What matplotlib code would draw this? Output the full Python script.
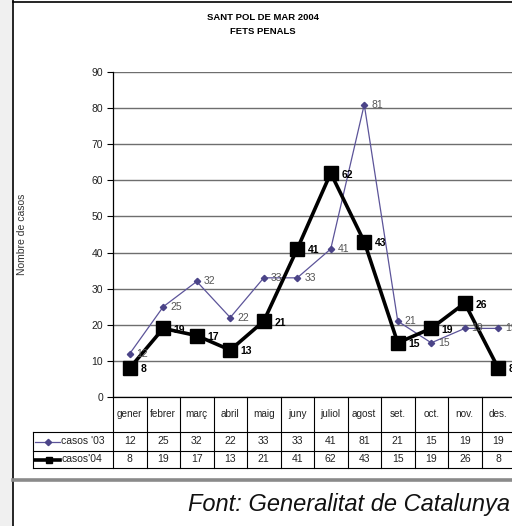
"""
plot.py - Sant Pol de Mar 2004: fets penals (casos '03 vs casos '04)
"""

import matplotlib
matplotlib.use('Agg')
import matplotlib.pyplot as plt
from matplotlib.lines import Line2D
from matplotlib.patches import Rectangle

months = ['gener', 'febrer', 'març', 'abril', 'maig', 'juny',
          'juliol', 'agost', 'set.', 'oct.', 'nov.', 'des.']
casos_03 = [12, 25, 32, 22, 33, 33, 41, 81, 21, 15, 19, 19]
casos_04 = [8, 19, 17, 13, 21, 41, 62, 43, 15, 19, 26, 8]
series_labels = ["casos '03", "casos'04"]
y_ticks = [0, 10, 20, 30, 40, 50, 60, 70, 80, 90]

plt.rcParams['font.family'] = ['Liberation Sans', 'DejaVu Sans']

W, H = 512, 526
figure = plt.figure(figsize=(W / 100, H / 100), dpi=100)


def fx(px):
    return px / W


def fy(py):
    return 1 - py / H


# left grey strip + frame
figure.patches.append(Rectangle((0, 0), fx(12), 1, transform=figure.transFigure,
                                facecolor='#f0f0f0', edgecolor='none', zorder=0))
figure.add_artist(Line2D([fx(12.5), fx(12.5)], [0, 1], color='black', lw=1.2))
figure.add_artist(Line2D([fx(12.5), 1], [fy(1.5), fy(1.5)], color='black', lw=1.2))
figure.add_artist(Line2D([fx(12.5), 1], [fy(480), fy(480)], color='#8a8a8a', lw=2.6))

# plot area
left, right, bottom, top = 113, 515, 397, 72
axis = figure.add_axes([fx(left), fy(bottom), fx(right - left), (bottom - top) / H])
x = list(range(len(months)))

axis.plot(x, casos_03, color='#5c5499', lw=0.9, marker='D', markersize=3.2,
          markerfacecolor='#4b4488', markeredgecolor='#4b4488', zorder=3)
axis.plot(x, casos_04, color='black', lw=2.6, marker='s', markersize=9.5, zorder=4)

for i, value in enumerate(casos_03):
    axis.annotate(str(value), (i, value), xytext=(5, 0), textcoords='offset points',
                  ha='left', va='center', fontsize=7.5, color='#555555', zorder=5)
for i, value in enumerate(casos_04):
    axis.annotate(str(value), (i, value), xytext=(7.5, -1), textcoords='offset points',
                  ha='left', va='center', fontsize=7.5, fontweight='bold', color='black', zorder=5)

axis.set_xlim(-0.5, len(months) - 0.5)
axis.set_ylim(0, 90)
axis.set_yticks(y_ticks)
axis.set_yticklabels([str(v) for v in y_ticks], fontsize=7.5, color='#222222')
axis.tick_params(axis='y', length=4, width=0.8, pad=3)
axis.set_xticks([])
axis.grid(axis='y', color='#6e6e6e', lw=1.0)
axis.set_axisbelow(True)
for side in ['top', 'right']:
    axis.spines[side].set_visible(False)
axis.spines['left'].set_linewidth(0.9)
axis.spines['bottom'].set_linewidth(0.9)

axis.set_ylabel('Nombre de casos', fontsize=7.5, color='#333333')
axis.yaxis.set_label_coords((27 - left) / (right - left), 0.5)

# data table under the axis
height = bottom - top


def ay(py):
    return -(py - bottom) / height


def axx(px):
    return (px - left) / (right - left)


row_month, row_03, row_04 = 432, 451, 468
kw = dict(transform=axis.transAxes, clip_on=False, color='black', lw=0.8)
for i in range(len(months) + 1):
    bx = axx(left + i * (right - left) / len(months))
    axis.add_line(Line2D([bx, bx], [0, ay(row_04)], **kw))
for py in [row_month, row_03, row_04]:
    axis.add_line(Line2D([axx(33), 1], [ay(py), ay(py)], **kw))
axis.add_line(Line2D([axx(33), axx(33)], [ay(row_month), ay(row_04)], **kw))

for i, name in enumerate(months):
    axis.text(i, ay(414), name, transform=axis.get_xaxis_transform(), ha='center',
              va='center', fontsize=7.2, color='#222222', clip_on=False)
    axis.text(i, ay((row_month + row_03) / 2), str(casos_03[i]),
              transform=axis.get_xaxis_transform(), ha='center', va='center',
              fontsize=7.5, color='#222222', clip_on=False)
    axis.text(i, ay((row_03 + row_04) / 2), str(casos_04[i]),
              transform=axis.get_xaxis_transform(), ha='center', va='center',
              fontsize=7.5, color='#222222', clip_on=False)

# legend keys inside the table
y03, y04 = ay((row_month + row_03) / 2), ay((row_03 + row_04) / 2)
axis.add_line(Line2D([axx(35), axx(60)], [y03, y03], transform=axis.transAxes, clip_on=False,
                     color='#5c5499', lw=0.9))
axis.add_line(Line2D([axx(48)], [y03], transform=axis.transAxes, clip_on=False,
                     color='#4b4488', marker='D', markersize=3.2, lw=0))
axis.add_line(Line2D([axx(35), axx(60)], [y04, y04], transform=axis.transAxes, clip_on=False,
                     color='black', lw=2.6))
axis.add_line(Line2D([axx(49)], [y04], transform=axis.transAxes, clip_on=False,
                     color='black', marker='s', markersize=4.5, lw=0))
axis.text(axx(61), y03, series_labels[0], transform=axis.transAxes, ha='left', va='center',
          fontsize=7.5, color='#222222', clip_on=False)
axis.text(axx(61), y04, series_labels[1], transform=axis.transAxes, ha='left', va='center',
          fontsize=7.5, color='#222222', clip_on=False)

# titles and source
figure.text(fx(263), fy(18), 'SANT POL DE MAR 2004', ha='center', va='center',
            fontsize=6.8, fontweight='bold')
figure.text(fx(263), fy(32), 'FETS PENALS', ha='center', va='center',
            fontsize=6.8, fontweight='bold')
figure.text(fx(510), fy(505), 'Font: Generalitat de Catalunya', ha='right', va='center',
            fontsize=17, fontstyle='italic', color='#111111')

figure.savefig('out.png', dpi=100)
